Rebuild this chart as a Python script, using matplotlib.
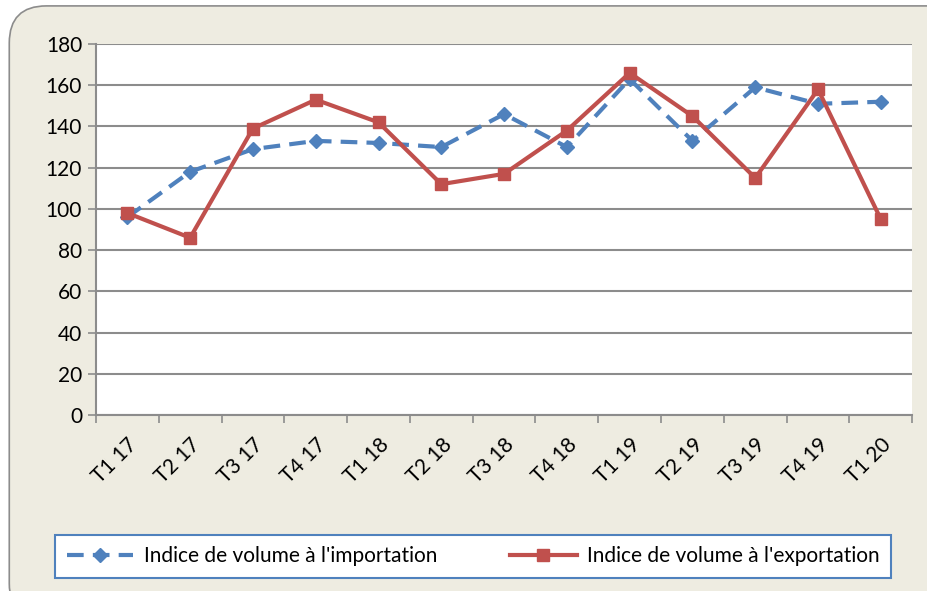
import numpy as np
import matplotlib.pyplot as plt
from matplotlib.patches import FancyBboxPatch

plt.rcParams['font.family'] = ['Lato', 'DejaVu Sans']

# Data
quarters = ['T1 17', 'T2 17', 'T3 17', 'T4 17', 'T1 18', 'T2 18', 'T3 18',
            'T4 18', 'T1 19', 'T2 19', 'T3 19', 'T4 19', 'T1 20']
imports = [96, 118, 129, 133, 132, 130, 146, 130, 163, 133, 159, 151, 152]
exports = [98, 86, 139, 153, 142, 112, 117, 138, 166, 145, 115, 158, 95]

fig = plt.figure(figsize=(9.28, 5.91), dpi=100)
fig.patch.set_facecolor('white')

# Rounded beige background frame
bg = FancyBboxPatch((0.010, -0.05), 1.05, 1.04,
                    boxstyle='round,pad=0,rounding_size=0.04',
                    transform=fig.transFigure, facecolor='#EEECE1',
                    edgecolor='#8C8C8C', linewidth=1.2, zorder=-10,
                    mutation_aspect=928 / 591)
fig.patches.append(bg)

ax = fig.add_axes([0.1034, 0.2978, 0.8796, 0.6277])
ax.set_facecolor('white')

x = np.arange(len(quarters))
ax.plot(x, imports, color='#4F81BD', linestyle=(0, (4, 2.2)), linewidth=3,
        marker='D', markersize=7, label="Indice de volume à l'importation", zorder=3)
ax.plot(x, exports, color='#C0504D', linewidth=3, marker='s', markersize=9,
        label="Indice de volume à l'exportation", zorder=4)

ax.set_xlim(-0.5, len(quarters) - 0.5)
ax.set_ylim(0, 180)
ax.set_yticks(range(0, 181, 20))
ax.yaxis.grid(True, color='#8C8C8C', linewidth=1.5)
ax.set_axisbelow(True)

ax.set_xticks(x)
ax.set_xticklabels(quarters, rotation=45, ha='right', rotation_mode='anchor',
                   fontsize=15)
ax.tick_params(axis='x', length=0, pad=14)
ax.set_xticks(np.arange(-0.5, len(quarters)), minor=True)
ax.tick_params(axis='x', which='minor', length=6, color='#8C8C8C', width=1.2)
ax.tick_params(axis='y', labelsize=15, length=6, color='#8C8C8C', width=1.2, pad=4)

for side in ['top', 'right']:
    ax.spines[side].set_visible(False)
for side in ['left', 'bottom']:
    ax.spines[side].set_color('#8C8C8C')
    ax.spines[side].set_linewidth(1.5)

leg = fig.legend(loc='center', bbox_to_anchor=(0.51, 0.059), ncol=2,
                 fontsize=15, frameon=True, fancybox=False,
                 handlelength=3.2, handletextpad=0.5, columnspacing=3.5,
                 borderpad=0.55, borderaxespad=0)
leg.get_frame().set_edgecolor('#4F81BD')
leg.get_frame().set_facecolor('white')
leg.get_frame().set_alpha(1)
leg.get_frame().set_linewidth(1.5)

plt.savefig('out.png', dpi=100, facecolor=fig.get_facecolor())
